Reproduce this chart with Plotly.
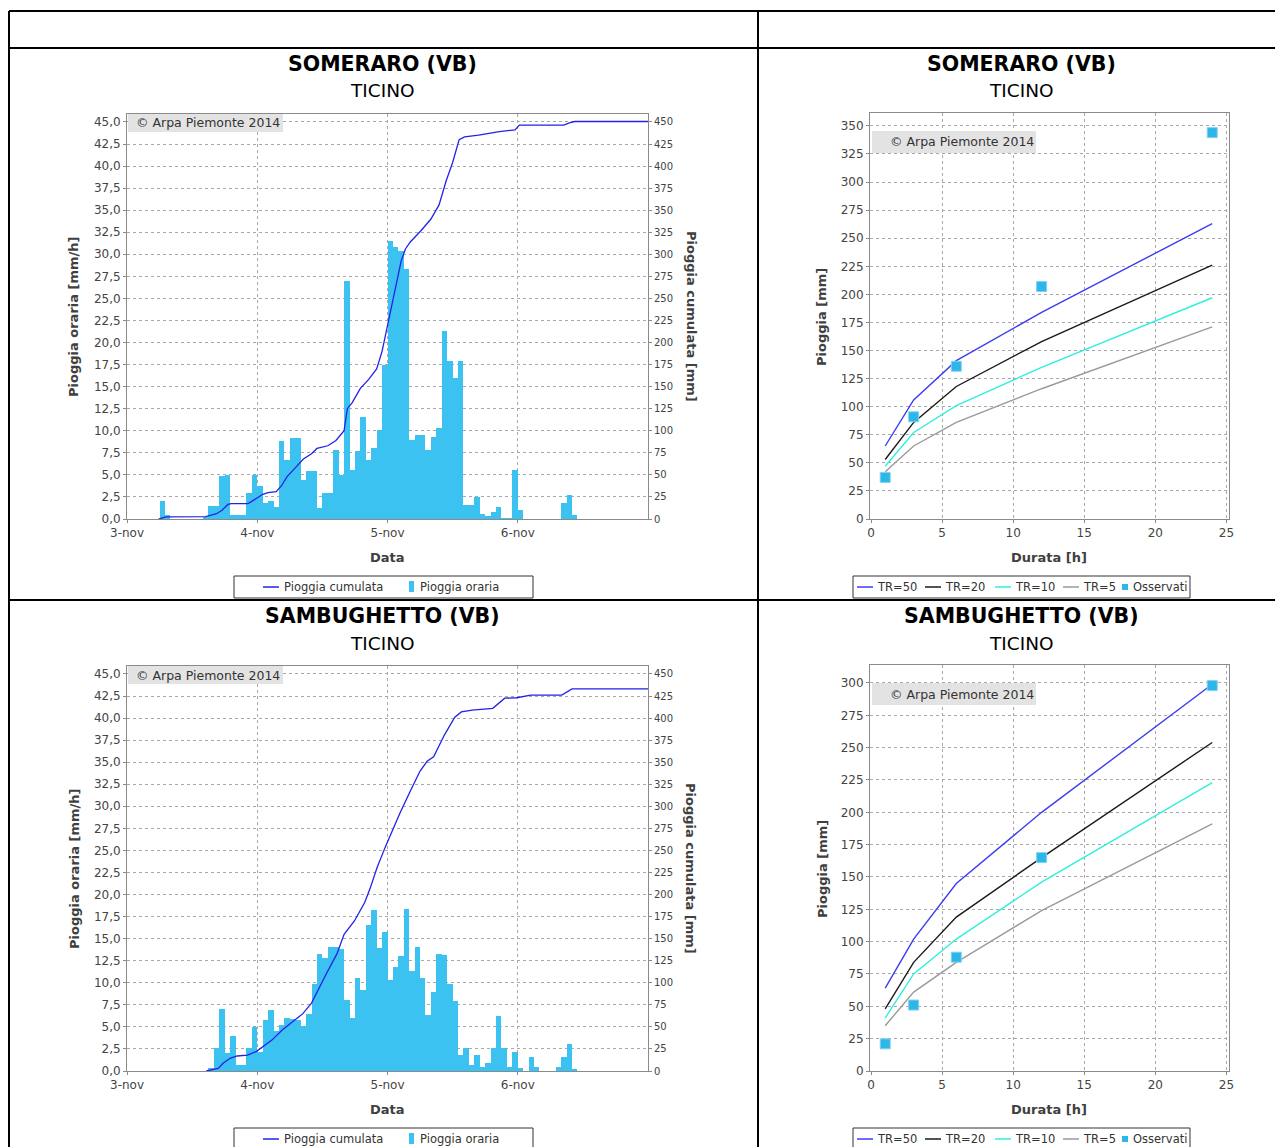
import numpy as np
import pandas as pd
import plotly.graph_objects as go

W, H = 1275, 1147

# ---------------- data ----------------
start = "2014-11-03 00:00"
end = "2014-11-07 00:00"
date_ticks = ["2014-11-03", "2014-11-04", "2014-11-05", "2014-11-06"]
date_tick_labels = ["3-nov", "4-nov", "5-nov", "6-nov"]

# hourly rain [mm/h], hours 0..95 from 3-nov 00:00
rain_someraro = [
    0, 0, 0, 0, 0, 0, 2.0, 0.5, 0, 0, 0, 0, 0, 0, 0.2, 1.5,
    1.5, 4.9, 5.0, 0.4, 0.4, 0.5, 3.0, 5.0, 3.7, 1.8, 2.0, 1.4, 8.8, 6.7, 9.2, 9.2,
    4.4, 5.4, 5.4, 1.2, 2.9, 2.9, 7.8, 5.0, 27.0, 5.6, 7.7, 11.6, 6.7, 8.0, 10.1, 17.5,
    31.5, 30.8, 30.4, 28.3, 9.0, 9.5, 9.5, 7.8, 9.3, 10.3, 21.3, 17.9, 16.0, 17.9, 1.6, 1.6,
    2.5, 0.6, 0.3, 0.8, 1.4, 0.1, 0.1, 5.6, 1.0, 0, 0, 0, 0, 0, 0, 0,
    1.8, 2.7, 0.4, 0, 0, 0, 0, 0, 0, 0, 0, 0, 0, 0, 0, 0,
]
rain_sambughetto = [
    0, 0, 0, 0, 0, 0, 0, 0, 0, 0, 0, 0, 0, 0, 0, 0.3,
    2.6, 7.0, 2.0, 4.0, 0.7, 0.7, 2.6, 5.0, 2.2, 5.8, 6.9, 4.5, 5.2, 6.0, 5.9, 5.8,
    5.1, 6.5, 9.9, 13.3, 12.8, 14.1, 14.1, 13.8, 8.0, 6.0, 10.5, 9.2, 16.6, 18.3, 13.9, 15.8,
    10.3, 11.8, 13.0, 18.4, 11.3, 14.1, 10.5, 6.3, 9.0, 13.3, 13.2, 9.9, 7.9, 1.8, 2.6, 0.7,
    1.8, 0.5, 0.9, 2.6, 6.2, 2.6, 0.5, 2.2, 0.3, 0, 1.6, 0.5, 0, 0, 0, 0.5,
    1.6, 3.1, 0.2, 0, 0, 0, 0, 0, 0, 0, 0, 0, 0, 0, 0, 0,
]

# cumulative rain line [mm] read as vertices (hours since 3-nov 00:00, value)
cum_someraro_hours = [5.8, 6.5, 7.2, 14.5, 15.5, 16.5, 17.5, 18.6, 19.2, 22.3, 23.0, 24.0,
                      25.0, 26.0, 27.5, 28.5, 29.5, 31.0, 32.5, 34.0, 35.0, 37.0, 38.5, 40.0,
                      40.6, 41.5, 43.0, 44.5, 46.0, 47.0, 47.5, 48.5, 49.5, 50.5, 51.3, 52.2,
                      54.2, 56.0, 57.5, 58.8, 60.0, 61.2, 62.2, 64.8, 68.6, 71.5, 72.3, 80.5,
                      81.5, 82.5, 96.0]
cum_someraro_values = [0, 1.0, 2.5, 2.6, 4, 6, 10, 16.5, 17.5, 17.5, 20, 24,
                       28, 30, 31, 38, 48, 58, 68, 74, 80, 83, 89, 100,
                       125, 132, 148, 158, 170, 190, 205, 235, 264, 292, 306, 314,
                       327, 340, 356, 383, 404, 430, 433, 435, 439, 441, 446.5, 446.5,
                       449, 450.5, 450.5]
cum_sambughetto_hours = [14.6, 16.8, 17.7, 19.0, 20.3, 22.2, 23.8, 25.1, 26.7, 28.6, 30.5, 32.4,
                         34.0, 35.2, 36.8, 38.7, 40.0, 41.9, 43.8, 44.8, 46.1, 47.6, 48.9, 50.2,
                         52.1, 54.0, 55.3, 56.5, 58.5, 60.4, 61.6, 63.6, 67.4, 68.6, 69.6, 71.8,
                         74.4, 80.1, 82.0, 96.0]
cum_sambughetto_values = [0, 3, 8.7, 14.4, 17, 18, 22, 27.6, 35, 46.5, 56, 65,
                          77, 92, 111, 133, 155, 170, 191, 207, 231, 254, 273, 291,
                          316, 340, 351, 356, 381, 401, 407, 409, 411, 417, 422.5, 423,
                          426, 426, 433, 433]

# depth-duration curves
durations = [1, 3, 6, 12, 24]
someraro_tr50 = [65, 106, 141, 184, 263]
someraro_tr20 = [53, 86, 118, 158, 226]
someraro_tr10 = [47, 77, 101, 135, 197]
someraro_tr5 = [42, 65, 86, 116, 171]
someraro_obs = [37, 91, 136, 207, 344]
sambughetto_tr50 = [64, 102, 145, 200, 299]
sambughetto_tr20 = [48, 84, 119, 165, 254]
sambughetto_tr10 = [41, 75, 102, 146, 223]
sambughetto_tr5 = [35, 61, 84, 124, 191]
sambughetto_obs = [21, 51, 88, 165, 298]

stations = ["SOMERARO (VB)", "SAMBUGHETTO (VB)"]
basin = "TICINO"
tr_names = ["TR=50", "TR=20", "TR=10", "TR=5"]
rain_names = ["Pioggia cumulata", "Pioggia oraria"]
obs_name = "Osservati"

# ---------------- style ----------------
FONT = "DejaVu Sans"
BAR_COLOR = "#3CC2F0"
CUM_COLOR = "#2222E6"
TR_COLORS = ["#3C3CF2", "#1A1A1A", "#2EF0DC", "#9A9A9A"]
OBS_COLOR = "#2DB6E8"
GRID = "#A8A8A8"
AXLINE = "#8A8A8A"
TICKC = "#444444"


def xp(px):
    return px / W


def yp(py):
    return 1 - py / H


base = pd.Timestamp(start)
bar_x = pd.date_range(start, periods=96, freq="h") + pd.Timedelta(minutes=30)

fig = go.Figure()

panels = [
    (rain_someraro, cum_someraro_hours, cum_someraro_values, "x", "y", "y2"),
    (rain_sambughetto, cum_sambughetto_hours, cum_sambughetto_values, "x3", "y4", "y5"),
]
for rain, ch, cv, xa, ya, yb in panels:
    fig.add_trace(go.Bar(x=bar_x, y=rain, width=3600000, marker=dict(color=BAR_COLOR, line=dict(width=0)),
                         name=rain_names[1], xaxis=xa, yaxis=ya, showlegend=False))
    cx = base + pd.to_timedelta(np.array(ch), unit="h")
    fig.add_trace(go.Scatter(x=cx, y=cv, mode="lines", line=dict(color=CUM_COLOR, width=1.3),
                             name=rain_names[0], xaxis=xa, yaxis=yb, showlegend=False))

ddf = [
    ([someraro_tr50, someraro_tr20, someraro_tr10, someraro_tr5], someraro_obs, "x2", "y3"),
    ([sambughetto_tr50, sambughetto_tr20, sambughetto_tr10, sambughetto_tr5], sambughetto_obs, "x4", "y6"),
]
for curves, obs, xa, ya in ddf:
    for name, vals, col in zip(tr_names, curves, TR_COLORS):
        fig.add_trace(go.Scatter(x=durations, y=vals, mode="lines", line=dict(color=col, width=1.4),
                                 name=name, xaxis=xa, yaxis=ya, showlegend=False))
    fig.add_trace(go.Scatter(x=durations, y=obs, mode="markers",
                             marker=dict(symbol="square", size=10, color=OBS_COLOR,
                                         line=dict(color="#7FD3F2", width=1)),
                             name=obs_name, xaxis=xa, yaxis=ya, showlegend=False))

common_axis = dict(showgrid=True, gridcolor=GRID, griddash="dot", gridwidth=1,
                   showline=True, linecolor=AXLINE, linewidth=1, mirror=True,
                   ticks="outside", ticklen=3, tickcolor=AXLINE, zeroline=False, automargin=False,
                   tickfont=dict(family=FONT, size=12, color=TICKC))

layout = dict(
    width=W, height=H, margin=dict(l=0, r=0, t=0, b=0, pad=0, autoexpand=False), autosize=False,
    paper_bgcolor="white", plot_bgcolor="white", separators=",.",
    font=dict(family=FONT, color="#222"), bargap=0, barmode="overlay", showlegend=False,
)

for xa, ya, yb, top, bot in [("xaxis", "yaxis", "yaxis2", 114, 519), ("xaxis3", "yaxis4", "yaxis5", 666, 1071)]:
    yname = ya.replace("axis", "")
    xname = xa.replace("axis", "")
    layout[xa] = dict(common_axis, type="date", range=[start, end], tickvals=date_ticks,
                      ticktext=date_tick_labels, domain=[xp(127), xp(648)], anchor=yname)
    layout[ya] = dict(common_axis, range=[0, 45.9], tickvals=list(np.arange(0, 45.01, 2.5)),
                      tickformat=".1f", domain=[yp(bot), yp(top)], anchor=xname)
    layout[yb] = dict(range=[0, 459], tickvals=list(range(0, 451, 25)), overlaying=yname,
                      side="right", anchor=xname, showgrid=False, zeroline=False, automargin=False,
                      ticks="outside", ticklen=3, tickcolor=AXLINE, showline=False,
                      tickfont=dict(family=FONT, size=10, color=TICKC))

for xa, ya, top, bot, ymax, ytop in [("xaxis2", "yaxis3", 113, 519, 350, 361.5),
                                     ("xaxis4", "yaxis6", 665, 1071, 300, 313.9)]:
    yname = ya.replace("axis", "")
    xname = xa.replace("axis", "")
    layout[xa] = dict(common_axis, range=[-0.07, 25.18], tickvals=list(range(0, 26, 5)),
                      domain=[xp(870), xp(1229)], anchor=yname)
    layout[ya] = dict(common_axis, range=[0, ytop], tickvals=list(range(0, ymax + 1, 25)),
                      domain=[yp(bot), yp(top)], anchor=xname)

fig.update_layout(**layout)

ann = []
shapes = []


def add_text(text, x, y, size, color="#333", xanchor="left", angle=0, bold=False):
    ann.append(dict(text=("<b>%s</b>" % text) if bold else text, x=xp(x), y=yp(y), xref="paper", yref="paper",
                    showarrow=False, xanchor=xanchor, yanchor="middle", textangle=angle,
                    font=dict(family=FONT, size=size, color=color)))


def add_rect(x0, y0, x1, y1, fill, line_color=None, lw=0):
    shapes.append(dict(type="rect", xref="paper", yref="paper", x0=xp(x0), x1=xp(x1), y0=yp(y0), y1=yp(y1),
                       fillcolor=fill, line=dict(width=lw, color=line_color or fill), layer="above"))


def add_line(x0, y0, x1, y1, color, lw):
    shapes.append(dict(type="line", xref="paper", yref="paper", x0=xp(x0), y0=yp(y0), x1=xp(x1), y1=yp(y1),
                       line=dict(color=color, width=lw), layer="above"))


# table lines
for (x0, y0, x1, y1) in [(9, 11, 1275, 11), (9, 48, 1275, 48), (9, 600, 1275, 600),
                         (9, 11, 9, 1147), (758, 11, 758, 1147)]:
    add_line(x0, y0, x1, y1, "black", 2)

for i, st in enumerate(stations):
    off = 552 * i
    for cx in (382, 1021):
        add_text(st, cx, 64 + off, 20.5, "black", "center", bold=True)
        add_text(basin, cx, 91 + off, 18.5, "black", "center")
    tc = "#404040"
    add_text("Pioggia oraria [mm/h]", 74, 317 + off, 13, tc, "center", -90, True)
    add_text("Pioggia cumulata [mm]", 691, 316 + off, 13, tc, "center", 90, True)
    add_text("Data", 387, 557 + off, 13, tc, "center", bold=True)
    add_text("Pioggia [mm]", 822, 317 + off, 13, tc, "center", -90, True)
    add_text("Durata [h]", 1049, 557 + off, 13, tc, "center", bold=True)
    # copyright boxes
    add_rect(128, 114 + off, 283, 132 + off, "#E3E3E3")
    add_text("© Arpa Piemonte 2014", 134, 123 + off, 12.5)
    add_rect(872, 131 + off, 1036, 153 + off, "#E3E3E3")
    add_text("© Arpa Piemonte 2014", 888, 142 + off, 12.5)

    # legends (drawn boxes)
    ly = 587 + off
    add_rect(234, 576 + off, 533, 598 + off, "white", "#333333", 1)
    add_line(263, ly, 279, ly, CUM_COLOR, 1.5)
    add_text(rain_names[0], 282, ly, 11.5)
    add_rect(409, ly - 6, 414, ly + 5, BAR_COLOR)
    add_text(rain_names[1], 418, ly, 11.5)

    add_rect(853, 576 + off, 1190, 598 + off, "white", "#333333", 1)
    for name, col, lx in zip(tr_names, TR_COLORS, [857, 925, 995, 1063]):
        add_line(lx, ly, lx + 16, ly, col, 1.5)
        add_text(name, lx + 18, ly, 11.5)
    add_rect(1122, ly - 3, 1128, ly + 3, OBS_COLOR)
    add_text(obs_name, 1131, ly, 11.5)

fig.update_layout(annotations=ann, shapes=shapes)

fig.write_html("out.html", config={"displayModeBar": False},
               post_script="document.body.style.margin='0';document.body.style.overflow='hidden';"
                           "document.documentElement.style.overflow='hidden';")
